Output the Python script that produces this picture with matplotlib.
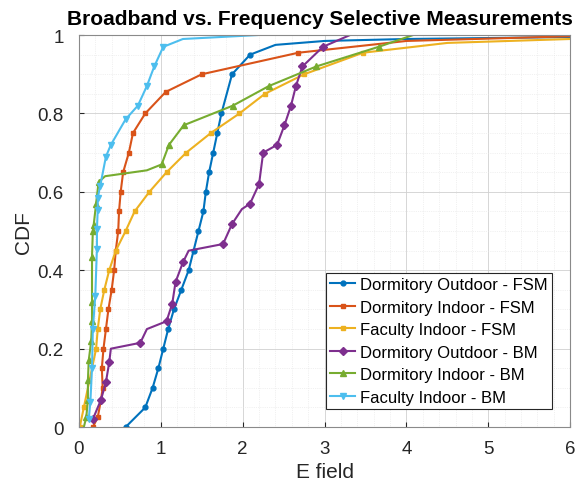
import matplotlib.pyplot as plt
import numpy as np
from matplotlib.ticker import MultipleLocator

plt.rcParams['font.family'] = ['Liberation Sans', 'DejaVu Sans']

# Dormitory Outdoor - FSM
do_fsm_x = [0.57, 0.81, 0.90, 0.97, 1.03, 1.09, 1.16, 1.25, 1.34, 1.40, 1.46, 1.52, 1.55, 1.59,
            1.64, 1.69, 1.74, 1.87, 2.09, 2.40, 3.00, 4.00, 6.00]
do_fsm_y = [0.00, 0.05, 0.10, 0.15, 0.20, 0.25, 0.30, 0.35, 0.40, 0.45, 0.50, 0.55, 0.60, 0.65,
            0.70, 0.75, 0.80, 0.90, 0.95, 0.975, 0.985, 0.99, 0.995]
do_fsm_mk = list(range(19))

# Dormitory Indoor - FSM
di_fsm_x = [0.17, 0.23, 0.27, 0.29, 0.28, 0.30, 0.33, 0.36, 0.40, 0.43, 0.45, 0.48, 0.49, 0.51,
            0.54, 0.61, 0.66, 0.81, 1.06, 1.50, 2.68, 4.00, 6.00]
di_fsm_y = [0.00, 0.025, 0.07, 0.10, 0.15, 0.20, 0.25, 0.30, 0.35, 0.40, 0.45, 0.50, 0.55, 0.60,
            0.65, 0.70, 0.75, 0.80, 0.855, 0.90, 0.955, 0.985, 0.997]
di_fsm_mk = list(range(21))

# Faculty Indoor - FSM
fi_fsm_x = [0.01, 0.06, 0.21, 0.23, 0.26, 0.31, 0.37, 0.45, 0.57, 0.68, 0.86, 1.07, 1.31, 1.61,
            1.96, 2.27, 2.75, 3.47, 4.50, 6.00]
fi_fsm_y = [0.00, 0.05, 0.20, 0.25, 0.30, 0.35, 0.40, 0.45, 0.50, 0.55, 0.60, 0.65, 0.70, 0.75,
            0.80, 0.85, 0.90, 0.955, 0.98, 0.99]
fi_fsm_mk = list(range(18))

# Dormitory Outdoor - BM
do_bm_x = [0.17, 0.27, 0.33, 0.37, 0.39, 0.75, 0.83, 1.07, 1.14, 1.18, 1.27, 1.34, 1.76, 1.87,
           1.99, 2.09, 2.20, 2.25, 2.42, 2.51, 2.59, 2.65, 2.73, 2.98, 3.31]
do_bm_y = [0.02, 0.07, 0.115, 0.165, 0.20, 0.215, 0.25, 0.27, 0.315, 0.37, 0.42, 0.45, 0.467,
           0.518, 0.556, 0.57, 0.62, 0.70, 0.72, 0.77, 0.82, 0.87, 0.92, 0.97, 1.00]
do_bm_mk = [0, 1, 2, 3, 5, 7, 8, 9, 10, 12, 13, 15, 16, 17, 18, 19, 20, 21, 22, 23]

# Dormitory Indoor - BM
di_bm_x = [0.06, 0.09, 0.11, 0.11, 0.12, 0.15, 0.16, 0.16, 0.16, 0.17, 0.18, 0.21, 0.24, 0.32,
           0.83, 1.01, 1.10, 1.28, 1.88, 2.32, 2.90, 3.66, 4.08]
di_bm_y = [0.00, 0.025, 0.07, 0.12, 0.17, 0.22, 0.27, 0.32, 0.435, 0.50, 0.515, 0.57, 0.625,
           0.64, 0.655, 0.67, 0.72, 0.77, 0.82, 0.87, 0.92, 0.97, 1.00]
di_bm_mk = [1, 2, 3, 4, 5, 6, 7, 8, 9, 10, 11, 12, 15, 16, 17, 18, 19, 20, 21]

# Faculty Indoor - BM
fi_bm_x = [0.12, 0.14, 0.16, 0.17, 0.20, 0.22, 0.22, 0.23, 0.23, 0.26, 0.33, 0.39, 0.57, 0.72,
           0.83, 0.92, 1.03, 1.27, 2.18]
fi_bm_y = [0.02, 0.065, 0.15, 0.25, 0.335, 0.455, 0.505, 0.555, 0.585, 0.615, 0.69, 0.72, 0.785,
           0.82, 0.87, 0.92, 0.97, 0.99, 1.00]
fi_bm_mk = list(range(17))

x_ticks = [0, 1, 2, 3, 4, 5, 6]
y_ticks = [0, 0.2, 0.4, 0.6, 0.8, 1]
y_tick_labels = ['0', '0.2', '0.4', '0.6', '0.8', '1']

series = [
    (do_fsm_x, do_fsm_y, do_fsm_mk, 'o', '#0072BD', 'Dormitory Outdoor - FSM', 3.5),
    (di_fsm_x, di_fsm_y, di_fsm_mk, 's', '#D95319', 'Dormitory Indoor - FSM', 3),
    (fi_fsm_x, fi_fsm_y, fi_fsm_mk, 's', '#EDB120', 'Faculty Indoor - FSM', 3),
    (do_bm_x, do_bm_y, do_bm_mk, 'D', '#7E2F8E', 'Dormitory Outdoor - BM', 4),
    (di_bm_x, di_bm_y, di_bm_mk, '^', '#77AC30', 'Dormitory Indoor - BM', 5),
    (fi_bm_x, fi_bm_y, fi_bm_mk, 'v', '#4DBEEE', 'Faculty Indoor - BM', 5),
]

fig = plt.figure(figsize=(5.76, 4.81), dpi=100)
ax = fig.add_axes([0.137, 0.110, 0.853, 0.815])

for x, y, mk, m, c, lab, ms in series:
    ax.plot(x, y, color=c, marker=m, markevery=mk, markersize=ms, linewidth=1.5, label=lab)

ax.set_xlim(0, 6)
ax.set_ylim(0, 1)
ax.set_xticks(x_ticks)
ax.set_xticklabels([str(t) for t in x_ticks])
ax.set_yticks(y_ticks)
ax.set_yticklabels(y_tick_labels)
ax.xaxis.set_minor_locator(MultipleLocator(0.2))
ax.yaxis.set_minor_locator(MultipleLocator(0.05))
ax.grid(True, which='major', color='#d0d0d0', linewidth=0.6)
ax.grid(True, which='minor', color='#e4e4e4', linewidth=0.5, linestyle=':')
ax.tick_params(which='both', direction='in', colors='#262626', labelsize=13.5)
ax.tick_params(axis='y', pad=11)
ax.tick_params(axis='x', pad=9)
ax.tick_params(which='minor', length=0)
for s in ax.spines.values():
    s.set_color('#8a8a8a')
    s.set_linewidth(0.8)

ax.set_xlabel('E field', fontsize=15, color='#262626', labelpad=4)
ax.set_ylabel('CDF', fontsize=15, color='#262626', labelpad=3)
ax.set_title('Broadband vs. Frequency Selective Measurements', fontsize=15,
             fontweight='bold', pad=8, x=0.49)

leg = ax.legend(loc='lower right', fontsize=12, handlelength=1.5, handletextpad=0.3,
                borderpad=0.25, labelspacing=0.45, fancybox=False, framealpha=1,
                edgecolor='#262626', borderaxespad=1.1)
leg.get_frame().set_linewidth(0.8)

fig.savefig('out.png', dpi=100)
